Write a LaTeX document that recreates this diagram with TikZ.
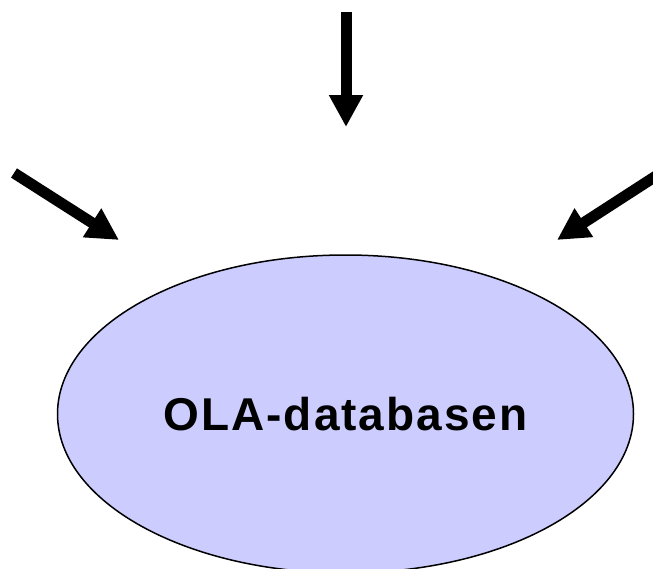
\documentclass[tikz,border=0pt]{standalone}
\usepackage{fontspec}
\setmainfont{Liberation Sans}
\newfontfamily\dbfont[LetterSpace=4.3]{Liberation Sans}
\usetikzlibrary{arrows.meta, shapes.geometric, positioning}
\tikzset{
every db/.style={ % the database ellipse
ellipse, draw=black, line width=1.5pt,
fill=dbblue, inner sep=0pt,
minimum width=576pt, minimum height=318pt,
font=\dbfont\fontsize{46}{50}\selectfont\bfseries},
feed/.style={ % thick incoming arrows
draw, line width=11pt,
-{Triangle[width=32pt,length=32pt]}}}
\definecolor{dbblue}{RGB}{204,204,255}

\begin{document}
\begin{tikzpicture}[x=1pt,y=-1pt]

    \useasboundingbox (0,0) rectangle (653,568);
    \clip (0,0) rectangle (653,568);

    \node[every db] (ola) at (345.5,414) {OLA-databasen};

    \coordinate (topA) at (346,12);
    \coordinate (topB) at (346,127);
    \coordinate (leftA) at (14,173);
    \coordinate (leftB) at (119,240);
    \coordinate (rightA) at (656,176);
    \coordinate (rightB) at (557,240);

    \draw[feed] (topA) -- (topB);
    \draw[feed] (leftA) -- (leftB);
    \draw[feed] (rightA) -- (rightB);

\end{tikzpicture}
\end{document}
